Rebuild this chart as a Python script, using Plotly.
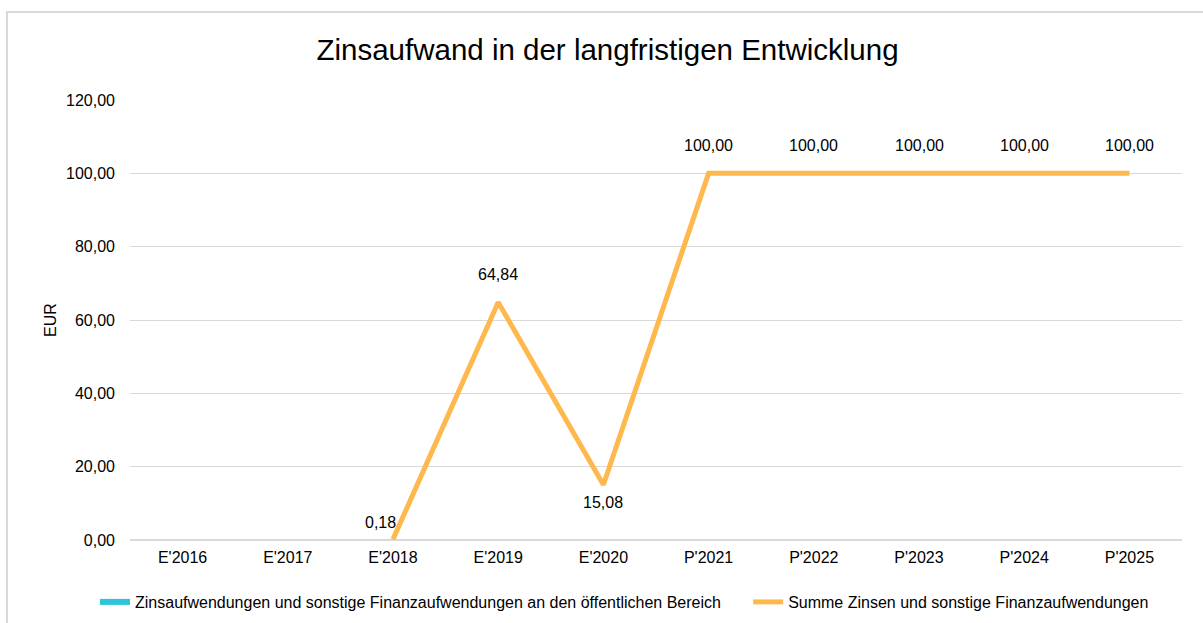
import plotly.graph_objects as go

categories = ["E'2016", "E'2017", "E'2018", "E'2019", "E'2020",
              "P'2021", "P'2022", "P'2023", "P'2024", "P'2025"]
zins_oeffentlich = [None] * 10
summe_zinsen = [None, None, 0.18, 64.84, 15.08, 100.0, 100.0, 100.0, 100.0, 100.0]
y_ticks = [0, 20, 40, 60, 80, 100, 120]

FONT = "Liberation Sans, Arial, sans-serif"
CYAN = "#2BC4D8"
ORANGE = "#FFB84D"


def de(v):
    return f"{v:,.2f}".replace(",", "X").replace(".", ",").replace("X", ".")


fig = go.Figure()
fig.add_trace(go.Scatter(
    x=categories, y=zins_oeffentlich, mode="lines",
    name="Zinsaufwendungen und sonstige Finanzaufwendungen an den öffentlichen Bereich" + "\u00a0" * 5,
    line=dict(color=CYAN, width=6), hoverinfo="skip"))
fig.add_trace(go.Scatter(
    x=categories, y=summe_zinsen, mode="lines",
    name="Summe Zinsen und sonstige Finanzaufwendungen",
    line=dict(color=ORANGE, width=5), hoverinfo="skip"))

# data labels
label_pos = {2: (-13, 17), 4: (0, -18)}
for i, (c, v) in enumerate(zip(categories, summe_zinsen)):
    if v is None:
        continue
    dx, dy = label_pos.get(i, (0, 28))
    fig.add_annotation(x=c, y=v, xref="x", yref="y", text=de(v),
                       showarrow=False, xshift=dx, yshift=dy,
                       font=dict(size=16, color="#000000", family=FONT))

fig.update_layout(
    width=1203, height=623,
    margin=dict(l=130, r=21, t=100, b=83, autoexpand=False),
    paper_bgcolor="white", plot_bgcolor="white",
    font=dict(family=FONT, size=16, color="#000000"),
    separators=",.",
    title=dict(text="Zinsaufwand in der langfristigen Entwicklung",
               x=0.505, xref="container", xanchor="center",
               y=1 - 50 / 623, yref="container", yanchor="middle",
               font=dict(size=29.5, family=FONT, color="#000000")),
    showlegend=True,
    legend=dict(orientation="h", xref="paper", x=(95 - 130) / 1052, xanchor="left",
                yref="paper", y=(540 - 602) / 440, yanchor="middle",
                font=dict(size=16, family=FONT), tracegroupgap=0),
    xaxis=dict(type="category", range=[-0.5, 9.5], showgrid=False,
               showline=False, zeroline=False,
               ticks="", tickfont=dict(size=16), ticklabelstandoff=6),
    yaxis=dict(range=[0, 120], tickvals=y_ticks, tickformat=".2f",
               showgrid=True, gridcolor="#D9D9D9", gridwidth=1,
               zeroline=True, zerolinecolor="#D9D9D9", zerolinewidth=2,
               showline=False, ticks="", tickfont=dict(size=16),
               ticklabelstandoff=14,
               title=dict(text="EUR", font=dict(size=16), standoff=5)),
    shapes=[dict(type="rect", xref="paper", yref="paper",
                 x0=(7 - 130) / 1052, x1=1.2, y0=-0.5, y1=(540 - 12) / 440,
                 line=dict(color="#D9D9D9", width=2), layer="below")],
)

fig.write_html("out.html", post_script="document.body.style.margin='0';",
               config={"displayModeBar": False})
